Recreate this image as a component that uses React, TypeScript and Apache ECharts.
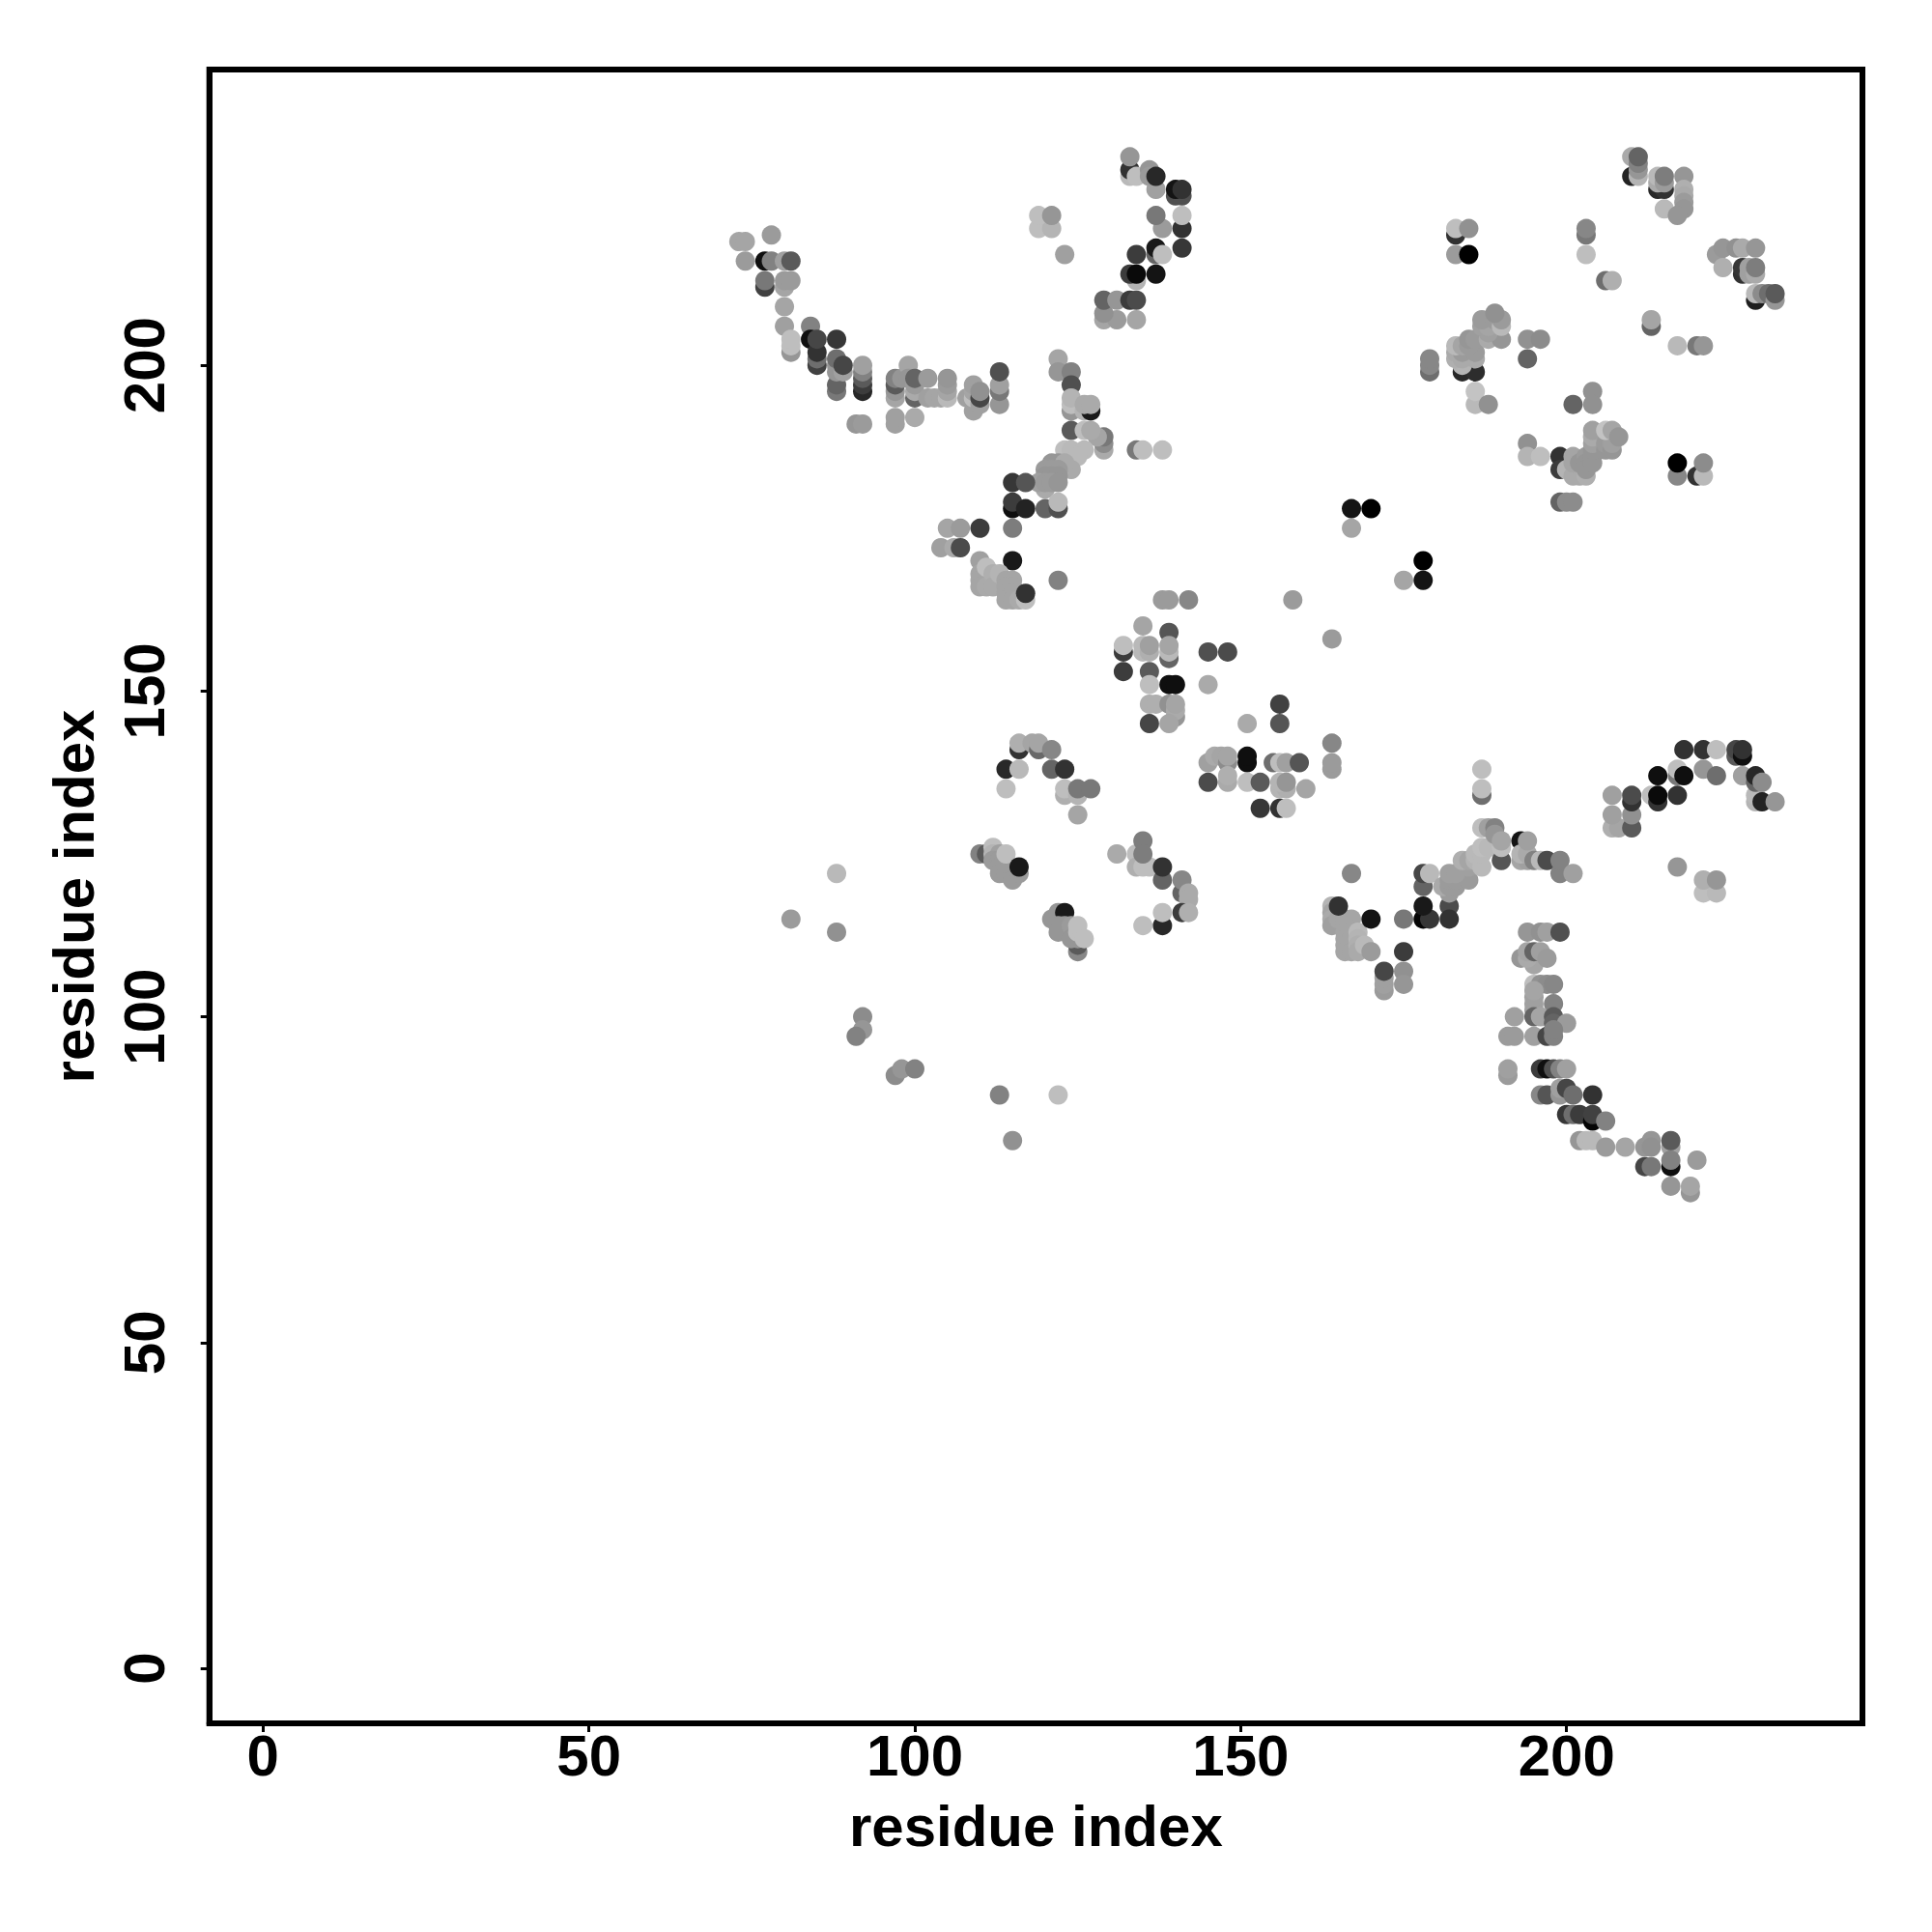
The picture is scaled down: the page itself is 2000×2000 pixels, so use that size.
import React, { useEffect, useRef } from "react";
import * as echarts from "echarts";

type P = [number, number, number];

const tickValues = [0, 50, 100, 150, 200];
const axisTitle = "residue index";

const topHookA: P[] = [
  [129,207,165],[131,207,155],[134,207,165],[129,208,145],[129,210,100],[131,210,150],[133,210,60],[134,210,75],
  [134,213,180],[133,214,60],[134,214,10],[137,214,20],[137,217,100],[134,217,60],[137,218,25],[138,217,190],[141,218,55],
  [138,221,155],[141,221,50],[137,223,120],[141,223,190],[140,226,80],[141,226,80],[137,227,160],[140,227,20],[141,227,50],
  [133,229,185],[133,230,50],[134,229,190],[136,230,150],[136,229,155],[137,229,40],[133,232,150],
  [123,217,160],[119,221,190],[121,221,180],[119,223,190],[121,223,150],
];
const leftArc: P[] = [
  [73,219,165],[74,219,165],[78,220,155],[74,216,155],[77,216,15],[78,216,130],[80,216,160],[81,216,90],
  [77,212,65],[77,213,120],[80,212,165],[80,213,155],[81,213,155],[80,209,165],[80,206,160],[84,206,130],[84,204,15],
  [81,202,150],[81,203,190],[81,204,190],[85,200,65],[85,201,110],[85,202,50],[85,204,70],[88,204,55],
  [88,196,120],[88,197,100],[88,199,150],[88,200,150],[88,201,110],[89,199,160],[89,200,70],
  [92,196,40],[92,197,60],[92,198,90],[92,199,130],[92,200,160],[91,191,150],[92,191,155],
  [97,191,160],[97,192,160],[97,195,165],[97,196,150],[97,197,90],[97,198,130],[98,198,150],[99,200,165],[99,198,150],
  [100,192,170],[100,195,100],[100,196,170],[100,197,155],[100,198,100],[102,198,155],[102,195,160],[103,195,165],[104,195,165],
  [105,195,185],[105,196,165],[105,197,155],[105,198,150],[108,195,160],[109,193,160],[109,195,190],[109,196,165],[109,197,160],
  [110,194,160],[110,195,70],[110,196,145],[113,194,150],[113,196,120],[113,197,160],[113,199,80],
];
const midDiagonalA: P[] = [
  [122,201,165],[122,199,150],[124,199,130],[124,197,80],[124,193,150],[124,194,190],[124,195,180],[126,193,180],[127,193,25],
  [126,194,170],[127,194,170],[124,190,90],[129,187,170],[129,188,140],[129,189,120],[128,189,165],[126,190,190],[127,190,170],
  [134,187,120],[135,187,190],[138,187,190],[123,187,190],[124,187,185],[126,187,185],[125,186,185],[124,184,170],
  [120,181,170],[121,185,150],[122,185,150],[123,185,170],[120,184,155],[121,184,155],[122,184,155],[120,183,150],[121,183,150],[122,183,150],
  [119,182,160],[120,182,155],[121,182,155],[122,182,150],
  [115,182,55],[117,182,85],[115,178,15],[115,179,60],[117,178,35],[120,178,100],[122,178,80],[122,179,185],
  [105,175,165],[107,175,155],[110,175,60],[115,175,125],[104,172,160],[106,172,170],[107,172,75],[115,170,25],
];
const clusterA: P[] = [
  [110,170,160],[110,168,165],[110,167,165],[110,166,165],[111,169,190],[111,166,170],[112,168,175],[112,166,170],[113,168,180],
  [114,167,165],[115,167,165],[114,166,165],[115,166,165],[114,165,165],[115,165,165],[114,164,165],[115,164,165],[116,164,170],[117,164,190],[117,165,50],[122,167,130],
];
const centerTop: P[] = [
  [138,164,155],[139,164,155],[142,164,135],[158,164,155],[135,160,165],[139,159,85],[132,156,60],[132,157,190],[135,156,185],[135,157,185],
  [136,156,175],[136,157,160],[139,155,100],[139,156,185],[139,157,165],[145,156,80],[148,156,75],[164,158,155],[132,153,60],[136,153,90],
  [136,151,190],[139,151,15],[140,151,15],[145,151,170],[136,148,175],[137,148,175],[139,148,145],[140,146,150],[140,147,170],[140,148,165],[139,145,165],
  [136,145,70],[156,148,65],[156,145,85],[151,145,170],
];
const centerLow: P[] = [
  [164,142,135],[164,138,155],[164,139,155],[145,139,160],[146,140,170],[147,140,165],[148,139,140],[148,140,165],[148,136,170],[148,137,175],
  [145,136,75],[151,139,15],[151,140,15],[151,136,190],[153,136,90],[155,139,110],[156,139,190],[157,139,160],[159,139,85],
  [156,135,180],[157,135,175],[156,136,180],[157,136,150],[160,135,165],[153,132,55],[156,132,50],[157,132,190],
];
const smallArc: P[] = [
  [116,141,50],[116,142,175],[118,142,165],[119,141,105],[119,142,165],[121,141,135],[114,138,40],[116,138,185],[121,138,100],[123,138,50],
  [114,135,190],[123,134,175],[123,135,190],[125,134,180],[125,135,120],[127,135,120],[125,131,165],
];
const lowMiddle: P[] = [
  [110,125,130],[111,125,90],[112,126,190],[112,125,180],[113,125,160],[112,124,155],[113,124,155],[113,123,155],[114,123,155],[113,122,155],[114,122,155],[115,122,155],[115,121,155],[116,122,155],[114,125,190],[116,123,25],
  [131,125,170],[134,125,190],[134,123,175],[135,123,190],[136,123,190],[135,127,125],[135,125,125],[138,121,100],[138,123,50],[141,119,100],[141,121,135],[142,119,170],[142,118,170],[141,116,60],[142,116,175],[138,114,40],[138,116,190],[135,114,190],
  [121,115,150],[122,116,150],[123,116,25],[122,114,150],[123,114,150],[122,113,150],[124,114,155],[125,110,135],[125,111,90],[124,112,150],[125,112,150],[125,113,190],[125,114,190],[126,112,190],
];
const lowerRightDiagonal: P[] = [
  [167,122,135],[164,117,180],[164,116,165],[164,115,170],[164,114,160],[165,115,165],[166,115,165],[167,115,165],[166,114,165],[166,113,165],[166,112,165],[166,111,165],[166,110,165],
  [167,113,165],[167,112,165],[167,110,165],[168,113,185],[168,112,180],[168,111,175],[168,110,170],[169,111,185],[170,110,155],[165,117,50],
  [170,115,20],[175,115,120],[175,110,60],[175,107,145],[175,105,150],[172,104,155],[172,105,160],[172,106,160],[172,107,70],
  [178,115,5],[179,115,55],[178,117,25],[182,117,75],[182,115,50],[178,120,100],[178,122,70],[179,122,185],
  [182,119,155],[181,120,170],[182,120,155],[183,120,155],[182,121,155],[183,121,155],[185,121,155],[182,122,160],[183,122,160],
  [185,123,160],[184,124,175],[185,124,165],[186,124,180],[187,123,185],[186,125,185],[187,125,185],[187,126,190],[188,126,185],
  [190,124,85],[187,129,190],[188,129,160],[189,129,130],[189,128,150],[190,126,190],[190,127,165],
  [193,127,20],[193,124,165],[194,124,160],[193,125,180],[194,125,170],[194,127,160],[195,124,130],[196,124,185],[197,124,75],[199,122,130],[199,124,130],[201,122,160],
  [187,134,110],[187,135,190],[187,138,190],
];
const rightArc: P[] = [
  [207,129,175],[208,129,165],[207,131,160],[207,134,160],[210,129,90],[210,131,145],[210,133,50],[210,134,75],
  [213,134,190],[214,133,50],[214,134,10],[217,134,50],[214,137,15],[217,137,120],[217,138,190],[218,137,15],[218,141,50],[221,138,150],[221,141,50],[223,141,190],[223,137,110],
  [226,140,90],[226,141,70],[227,140,15],[227,141,50],[227,137,160],[229,133,180],[229,134,185],[229,136,100],[229,137,40],[230,133,35],[230,136,140],[232,133,150],
  [217,123,150],[221,119,190],[223,119,185],[221,121,175],[223,121,150],
];
const verticalCluster: P[] = [
  [194,113,150],[196,113,145],[197,113,160],[199,113,80],[195,108,165],[193,109,150],[194,109,170],[194,110,165],[195,110,100],[196,110,160],[197,109,155],
  [195,105,190],[196,105,145],[197,105,140],[198,105,135],[195,101,160],[195,102,160],[195,103,160],[195,104,165],[198,102,130],
  [192,100,160],[195,100,100],[196,100,165],[198,100,90],[198,99,100],[200,99,155],[195,97,160],[197,97,70],[198,97,130],[198,98,130],[191,97,155],[192,97,155],
  [191,91,155],[191,92,160],[196,92,60],[197,92,15],[198,92,80],[199,92,130],[200,92,160],
  [196,88,135],[197,88,85],[199,88,150],[199,89,160],[200,89,70],[201,88,110],[204,88,50],
  [200,85,55],[201,85,110],[202,85,60],[204,84,5],[204,85,65],[206,84,130],
  [202,81,150],[203,81,185],[204,81,185],[206,80,155],[209,80,165],[212,80,150],[213,81,150],[213,80,145],[216,80,160],[216,81,90],
  [216,77,15],[216,78,130],[212,77,70],[213,77,120],[220,78,155],[216,74,150],[219,73,150],[219,74,165],
];
const topRight: P[] = [
  [210,232,170],[210,229,35],[211,229,180],[211,230,150],[211,231,130],[211,232,100],[214,227,40],[215,227,50],[214,228,170],[214,229,185],[215,228,155],[215,229,125],
  [218,229,150],[218,227,175],[218,226,170],[218,225,155],[218,224,150],[215,224,185],[217,223,150],
  [183,220,50],[183,221,190],[185,221,145],[183,217,155],[185,217,0],[203,220,120],[203,221,135],[203,217,190],[206,213,110],[207,213,175],
  [223,217,155],[224,218,150],[226,218,145],[227,218,170],[229,218,150],[224,215,175],[227,214,50],[227,215,55],[228,214,160],[228,215,160],[229,214,170],[229,215,125],
  [229,210,30],[229,211,185],[230,211,140],[231,211,110],[232,210,150],[232,211,90],[213,206,100],[213,207,165],[217,203,185],[220,203,120],[221,203,150],
];
const upperClusters: P[] = [
  [179,199,110],[179,200,135],[179,201,135],[184,199,40],[186,199,45],[184,200,180],[183,201,175],[184,201,170],[186,201,170],[183,202,170],[184,202,155],[186,202,155],[183,203,185],[184,203,165],[185,203,155],
  [185,204,150],[186,204,155],[188,204,170],[190,204,150],[188,205,160],[187,206,160],[188,206,165],[187,207,155],[189,207,155],[190,206,185],[190,207,155],[189,208,145],
  [194,204,145],[196,204,140],[194,201,100],[186,194,185],[186,196,195],[188,194,145],[204,196,145],[204,194,145],[201,194,100],
  [194,188,145],[194,186,180],[196,186,190],[199,186,50],[199,184,60],[200,184,180],[201,183,170],[202,183,170],[203,183,175],[201,186,165],[201,185,165],[202,185,150],[203,186,155],[203,185,150],[203,184,150],[204,186,150],[204,185,150],
  [204,187,150],[204,188,160],[204,189,170],[204,190,160],[206,187,150],[206,188,155],[207,187,150],[207,188,160],[206,190,195],[207,190,165],[208,189,150],
  [199,179,100],[200,179,140],[201,179,140],[217,183,135],[217,185,0],[220,183,50],[221,183,185],[221,185,140],
];
const scattered: P[] = [
  [167,175,165],[167,178,20],[170,178,0],[175,167,165],[178,167,20],[178,170,0],
  [88,122,185],[81,115,155],[88,113,145],[92,100,140],[92,98,150],[91,97,130],[97,91,140],[98,92,150],[100,92,130],[113,88,130],[122,88,190],[115,81,145],
];

const allPoints: P[] = [
  ...leftArc, ...topHookA, ...midDiagonalA, ...clusterA, ...centerTop, ...centerLow, ...smallArc, ...lowMiddle,
  ...lowerRightDiagonal, ...rightArc, ...verticalCluster, ...topRight, ...upperClusters, ...scattered,
];

const FONT = "Liberation Sans";

export default function App() {
  const ref = useRef<HTMLDivElement>(null);
  useEffect(() => {
    const chart = echarts.init(ref.current!, undefined, { renderer: "svg" });
    const axisCommon = {
      type: "value" as const,
      name: axisTitle,
      nameLocation: "middle" as const,
      nameTextStyle: { fontFamily: FONT, fontWeight: "bold" as const, fontSize: 60, color: "#000" },
      splitLine: { show: false },
      axisLine: { show: true, onZero: false, lineStyle: { color: "#000", width: 6 } },
      axisTick: { show: true, length: 9, customValues: tickValues, lineStyle: { color: "#000", width: 3 } },
      axisLabel: {
        customValues: tickValues,
        fontFamily: FONT,
        fontWeight: "bold" as const,
        fontSize: 60,
        color: "#000",
        showMinLabel: true,
        showMaxLabel: true,
      },
    };
    chart.setOption({
      animation: false,
      backgroundColor: "#fff",
      grid: { left: 216.7, right: 72, top: 72, bottom: 216, containLabel: false, show: true, borderColor: "#000", borderWidth: 6, backgroundColor: "#fff" },
      xAxis: { ...axisCommon, min: -8.24, max: 245.4, nameGap: 76, axisLabel: { ...axisCommon.axisLabel, margin: 3 } },
      yAxis: { ...axisCommon, min: -8.45, max: 245.4, nameGap: 110, axisLabel: { ...axisCommon.axisLabel, rotate: 90, margin: 37 } },
      series: [
        {
          type: "scatter",
          symbol: "circle",
          symbolSize: 20,
          data: allPoints,
          itemStyle: {
            opacity: 1,
            color: (p: any) => {
              const g = p.value[2];
              return `rgb(${g},${g},${g})`;
            },
          },
        },
      ],
    });
    return () => chart.dispose();
  }, []);
  return <div ref={ref} style={{ position: "absolute", left: 0, top: 0, width: 2000, height: 2000 }} />;
}
